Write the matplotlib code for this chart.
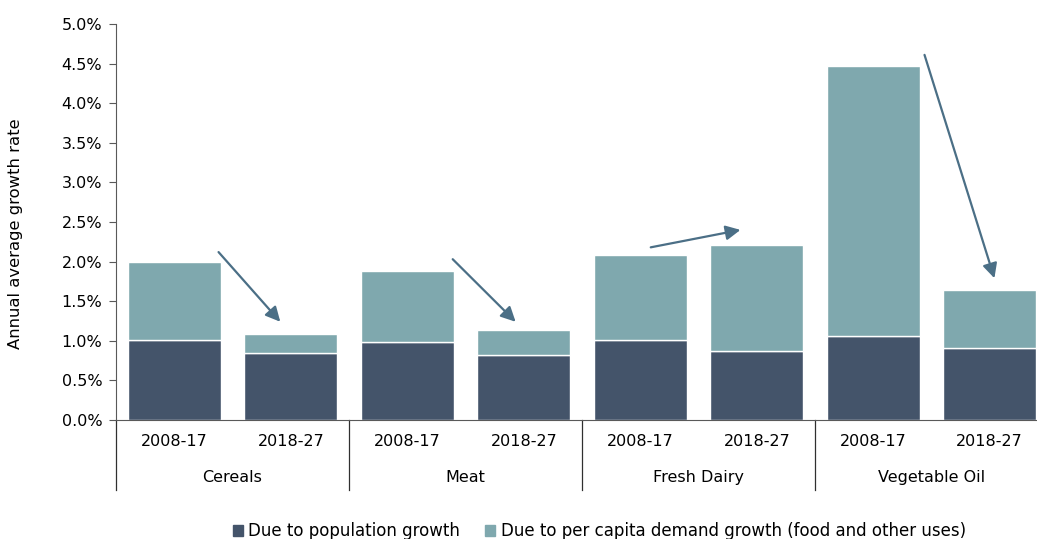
import matplotlib.pyplot as plt
import numpy as np
from matplotlib.lines import Line2D

plt.rcParams['font.family'] = ['DejaVu Sans']

commodities = ["Cereals", "Meat", "Fresh Dairy", "Vegetable Oil"]
periods = ["2008-17", "2018-27"]
population = [1.01, 0.84, 0.98, 0.82, 1.01, 0.87, 1.06, 0.91]
per_capita = [0.99, 0.25, 0.90, 0.32, 1.07, 1.34, 3.41, 0.73]

# arrows between the two periods of each commodity (x in bar index, y in %)
arrows = [((0.38, 2.12), (0.91, 1.24)),
          ((2.39, 2.03), (2.93, 1.24)),
          ((4.09, 2.18), (4.86, 2.40)),
          ((6.44, 4.61), (7.04, 1.79))]

dark = "#44546a"
light = "#7fa8ae"
arrow_col = "#4b6f86"

fig = plt.figure(figsize=(10.37, 5.39), dpi=100)
ax = fig.add_axes([0.1119, 0.2208, 0.8987, 0.7347])

x = np.arange(len(population))
pop = np.array(population)
pc = np.array(per_capita)
ax.bar(x, pop, width=0.8, color=dark, edgecolor="white", linewidth=1)
ax.bar(x, pc, bottom=pop, width=0.8, color=light, edgecolor="white", linewidth=1)

for (x0, y0), (x1, y1) in arrows:
    ax.annotate("", xy=(x1, y1), xytext=(x0, y0),
                arrowprops=dict(arrowstyle="-|>", color=arrow_col, lw=1.6,
                                mutation_scale=22, shrinkA=0, shrinkB=0))

ax.set_xlim(-0.5, len(population) - 0.5)
ax.set_ylim(0, 5.0)
ax.set_yticks(np.arange(0, 5.01, 0.5))
ax.set_yticklabels(["%.1f%%" % v for v in np.arange(0, 5.01, 0.5)], fontsize=11.5)
ax.tick_params(axis="y", length=5, color="#595959", pad=5)
ax.set_ylabel("Annual average growth rate", fontsize=11.8, labelpad=23)
ax.yaxis.set_label_coords(-0.1, 0.47)

ax.set_xticks([])
for s in ["top", "right"]:
    ax.spines[s].set_visible(False)
ax.spines["left"].set_color("#595959")
ax.spines["bottom"].set_color("#595959")

# two-level category labels below the axis
for i in x:
    ax.text(i, -0.27, periods[i % 2], ha="center", va="center",
            fontsize=11.5, clip_on=False)
for g, name in enumerate(commodities):
    ax.text(2 * g + 0.5, -0.72, name, ha="center", va="center",
            fontsize=11.5, clip_on=False)
for g in range(len(commodities)):
    xs = 2 * g - 0.5
    ax.add_line(Line2D([xs, xs], [0, -0.88], color="#303030", lw=0.9,
                       clip_on=False))

handles = [plt.Rectangle((0, 0), 1, 1, color=dark),
           plt.Rectangle((0, 0), 1, 1, color=light)]
fig.legend(handles, ["Due to population growth",
                     "Due to per capita demand growth (food and other uses)"],
           loc="lower center", bbox_to_anchor=(0.578, -0.03), ncol=2,
           frameon=False, fontsize=12, handlelength=0.6, handleheight=0.6,
           handletextpad=0.35, columnspacing=1.5)

fig.savefig("out.png", dpi=100)
